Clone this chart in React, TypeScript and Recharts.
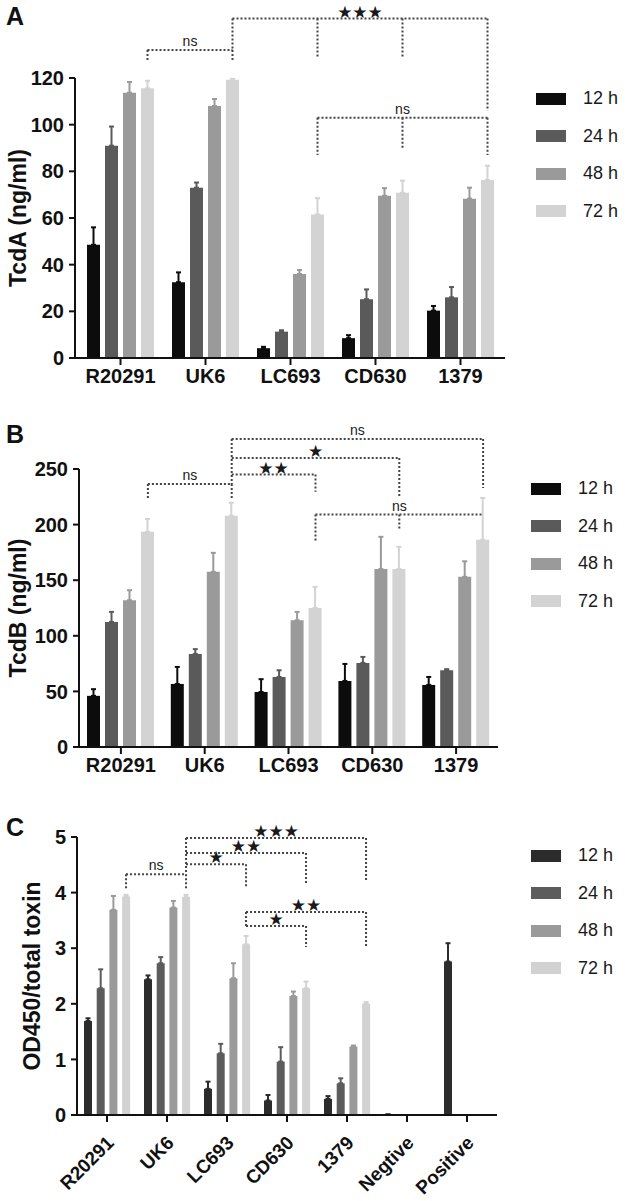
import React from "react";
import { BarChart, Bar, XAxis, YAxis, ErrorBar, Legend } from "recharts";

// categories
const strains = ["R20291", "UK6", "LC693", "CD630", "1379"];
const strainsC = ["R20291", "UK6", "LC693", "CD630", "1379", "Negtive", "Positive"];
const hours = ["12 h", "24 h", "48 h", "72 h"];

// panel A: TcdA (ng/ml), mean and upper SEM
const tcdA12 = [48.5, 32.5, 4.2, 8.5, 20.3];
const tcdA24 = [91, 73, 11.3, 25.2, 26];
const tcdA48 = [113.7, 108, 36, 69.5, 68.3];
const tcdA72 = [115.6, 119.2, 61.5, 70.8, 76.3];
const tcdA12Err = [7.5, 4.2, 0.6, 1.3, 2];
const tcdA24Err = [8.2, 2.2, 0.6, 4.2, 4.4];
const tcdA48Err = [4.6, 3, 1.7, 3.3, 4.7];
const tcdA72Err = [3.2, 0.4, 7, 5.2, 6.1];

// panel B: TcdB (ng/ml)
const tcdB12 = [46, 56.7, 49.5, 59.4, 55.8];
const tcdB24 = [112.5, 83.7, 63, 75.6, 69];
const tcdB48 = [132, 157.5, 114, 160, 153];
const tcdB72 = [193.5, 208, 125, 160, 186.4];
const tcdB12Err = [6, 15.3, 11.5, 15.3, 7.2];
const tcdB24Err = [9, 4.3, 6, 5.4, 1];
const tcdB48Err = [9, 17.1, 7.5, 29, 14];
const tcdB72Err = [11.5, 11.6, 19, 20, 37.6];

// panel C: OD450/total toxin
const od12 = [1.69, 2.44, 0.47, 0.26, 0.29, 0.01, 2.76];
const od24 = [2.28, 2.73, 1.11, 0.96, 0.57, 0, 0];
const od48 = [3.69, 3.73, 2.46, 2.14, 1.23, 0, 0];
const od72 = [3.93, 3.92, 3.07, 2.28, 2.0, 0, 0];
const od12Err = [0.05, 0.07, 0.13, 0.1, 0.05, 0, 0.33];
const od24Err = [0.34, 0.11, 0.17, 0.26, 0.09, 0, 0];
const od48Err = [0.25, 0.12, 0.27, 0.08, 0.02, 0, 0];
const od72Err = [0.03, 0.04, 0.15, 0.12, 0.03, 0, 0];

const colorsAB = ["#0c0c0c", "#5a5a5a", "#9a9a9a", "#d3d3d3"];
const colorsC = ["#2c2c2c", "#5c5c5c", "#9a9a9a", "#d2d2d2"];

const FONT = '"Liberation Sans", Arial, Helvetica, sans-serif';
const INK = "#111";
const DOT = "#444";

type Row = { name: string; [k: string]: number | string };

function buildRows(cats: string[], vals: number[][], errs: number[][]): Row[] {
  return cats.map((name, i) => {
    const r: Row = { name };
    vals.forEach((s, j) => {
      r["v" + j] = s[i];
      r["e" + j] = errs[j][i];
    });
    return r;
  });
}

const dataA = buildRows(strains, [tcdA12, tcdA24, tcdA48, tcdA72], [tcdA12Err, tcdA24Err, tcdA48Err, tcdA72Err]);
const dataB = buildRows(strains, [tcdB12, tcdB24, tcdB48, tcdB72], [tcdB12Err, tcdB24Err, tcdB48Err, tcdB72Err]);
const dataC = buildRows(strainsC, [od12, od24, od48, od72], [od12Err, od24Err, od48Err, od72Err]);

// significance brackets: line height in data units, ends at [category, bar]
type Drop = [number, number, number];
interface Bracket {
  from: [number, number];
  to: [number, number];
  y: number;
  drops: Drop[];
  label: string;
}

const bracketsA: Bracket[] = [
  { from: [0, 3], to: [1, 3], y: 132, drops: [[0, 3, 127], [1, 3, 127]], label: "ns" },
  { from: [1, 3], to: [4, 3], y: 145.5, drops: [[1, 3, 132], [2, 3, 128.5], [3, 3, 128.5], [4, 3, 106]], label: "★★★" },
  { from: [2, 3], to: [4, 3], y: 103, drops: [[2, 3, 87], [3, 3, 90], [4, 3, 87]], label: "ns" },
];

const bracketsB: Bracket[] = [
  { from: [0, 3], to: [1, 3], y: 236.5, drops: [[0, 3, 224], [1, 3, 224]], label: "ns" },
  { from: [1, 3], to: [2, 3], y: 245, drops: [[2, 3, 229.5]], label: "★★" },
  { from: [1, 3], to: [3, 3], y: 260, drops: [[3, 3, 224]], label: "★" },
  { from: [1, 3], to: [4, 3], y: 277, drops: [[1, 3, 236.5], [4, 3, 233]], label: "ns" },
  { from: [2, 3], to: [4, 3], y: 209, drops: [[2, 3, 184.5], [3, 3, 195]], label: "ns" },
];

const bracketsC: Bracket[] = [
  { from: [0, 3], to: [1, 3], y: 4.33, drops: [[0, 3, 4.08], [1, 3, 4.08]], label: "ns" },
  { from: [1, 3], to: [2, 3], y: 4.51, drops: [[2, 3, 4.1]], label: "★" },
  { from: [1, 3], to: [3, 3], y: 4.71, drops: [[3, 3, 4.15]], label: "★★" },
  { from: [1, 3], to: [4, 3], y: 4.98, drops: [[1, 3, 4.33], [4, 3, 4.19]], label: "★★★" },
  { from: [2, 3], to: [4, 3], y: 3.65, drops: [[2, 3, 3.4], [4, 3, 3.04]], label: "★★" },
  { from: [2, 3], to: [3, 3], y: 3.4, drops: [[3, 3, 3.02]], label: "★" },
];

interface PanelCfg {
  letter: string;
  title: string;
  top: number;
  bottom: number;
  plotLeft: number;
  plotTop: number;
  plotRight: number;
  plotBottom: number;
  padL: number;
  padR: number;
  barSize: number;
  barGap: number;
  max: number;
  ticks: number[];
  colors: string[];
  data: Row[];
  brackets: Bracket[];
  angled: boolean;
  legendLeft: number;
  legendTop: number;
  letterY: number;
  titleX: number;
}

const panels: PanelCfg[] = [
  {
    letter: "A", title: "TcdA (ng/ml)", top: 0, bottom: 390,
    plotLeft: 75, plotTop: 78, plotRight: 505, plotBottom: 358, padL: 3, padR: 2,
    barSize: 13, barGap: 5, max: 120, ticks: [0, 20, 40, 60, 80, 100, 120],
    colors: colorsAB, data: dataA, brackets: bracketsA, angled: false,
    legendLeft: 536, legendTop: 80, letterY: 25, titleX: 18,
  },
  {
    letter: "B", title: "TcdB (ng/ml)", top: 380, bottom: 780,
    plotLeft: 79, plotTop: 469, plotRight: 498, plotBottom: 747, padL: 0, padR: 0,
    barSize: 13, barGap: 5, max: 250, ticks: [0, 50, 100, 150, 200, 250],
    colors: colorsAB, data: dataB, brackets: bracketsB, angled: false,
    legendLeft: 531, legendTop: 470, letterY: 443, titleX: 18,
  },
  {
    letter: "C", title: "OD450/total toxin", top: 780, bottom: 1201,
    plotLeft: 77, plotTop: 837, plotRight: 497, plotBottom: 1115, padL: 0, padR: 0,
    barSize: 8, barGap: 4.7, max: 5, ticks: [0, 1, 2, 3, 4, 5],
    colors: colorsC, data: dataC, brackets: bracketsC, angled: true,
    legendLeft: 531, legendTop: 837, letterY: 836, titleX: 32,
  },
];

const LegendBox = ({ payload }: any) => (
  <div style={{ fontFamily: FONT }}>
    {(payload || []).map((p: any) => (
      <div key={p.value} style={{ display: "flex", alignItems: "center", height: 37.5 }}>
        <span style={{ display: "inline-block", width: 30, height: 12, background: p.color, marginRight: 17 }} />
        <span style={{ fontSize: 18, color: "#1a1a1a" }}>{p.value}</span>
      </div>
    ))}
  </div>
);

const AngledTick = ({ x, y, payload }: any) => (
  <g transform={`translate(${x + 8},${y + 20})`}>
    <text
      x={0}
      y={0}
      textAnchor="end"
      transform="rotate(-45)"
      fontFamily={FONT}
      fontSize={19}
      fontWeight={700}
      fill={INK}
    >
      {payload.value}
    </text>
  </g>
);

function Panel({ cfg }: { cfg: PanelCfg }) {
  const height = cfg.bottom - cfg.top;
  const axisStyle = { stroke: INK, strokeWidth: 2 };
  const tickFont = { fontFamily: FONT, fontSize: 20, fontWeight: 700, fill: INK };
  return (
    <div style={{ position: "absolute", left: 0, top: cfg.top }}>
      <BarChart
        width={630}
        height={height}
        data={cfg.data}
        margin={{ top: cfg.plotTop - cfg.top, right: 630 - cfg.plotRight, bottom: 0, left: 0 }}
        barGap={cfg.barGap}
      >
        <XAxis
          dataKey="name"
          height={cfg.bottom - cfg.plotBottom}
          padding={{ left: cfg.padL, right: cfg.padR }}
          axisLine={axisStyle}
          tickLine={axisStyle}
          tickSize={7}
          tickMargin={cfg.angled ? 2 : 4}
          interval={0}
          tick={cfg.angled ? <AngledTick /> : tickFont}
        />
        <YAxis
          width={cfg.plotLeft}
          domain={[0, cfg.max]}
          ticks={cfg.ticks}
          axisLine={axisStyle}
          tickLine={axisStyle}
          tickSize={6}
          tickMargin={5}
          tick={tickFont}
          interval={0}
        />
        <Legend
          layout="vertical"
          align="center"
          verticalAlign="middle"
          content={<LegendBox />}
          wrapperStyle={{ left: cfg.legendLeft, top: cfg.legendTop - cfg.top, width: 94 }}
        />
        {hours.map((h, j) => (
          <Bar
            key={h}
            dataKey={"v" + j}
            name={h}
            fill={cfg.colors[j]}
            barSize={cfg.barSize}
            isAnimationActive={false}
          >
            <ErrorBar
              dataKey={(d: Row) => [0, d["e" + j] as number]}
              width={2.5}
              stroke={cfg.colors[j]}
              strokeWidth={2}
              direction="y"
            />
          </Bar>
        ))}
      </BarChart>
    </div>
  );
}

function Annotations({ cfg }: { cfg: PanelCfg }) {
  const n = cfg.data.length;
  const band = (cfg.plotRight - cfg.plotLeft - cfg.padL - cfg.padR) / n;
  const bx = (c: number, b: number) =>
    cfg.plotLeft + cfg.padL + band * (c + 0.5) + (b - 1.5) * (cfg.barSize + cfg.barGap);
  const by = (v: number) => cfg.plotBottom - (v / cfg.max) * (cfg.plotBottom - cfg.plotTop);
  const midY = (cfg.plotTop + cfg.plotBottom) / 2;
  return (
    <g>
      <text x={6} y={cfg.letterY} fontFamily={FONT} fontSize={25} fontWeight={700} fill={INK}>
        {cfg.letter}
      </text>
      <text
        x={cfg.titleX}
        y={midY}
        transform={`rotate(-90 ${cfg.titleX} ${midY})`}
        textAnchor="middle"
        dominantBaseline="central"
        fontFamily={FONT}
        fontSize={23}
        fontWeight={700}
        fill={INK}
      >
        {cfg.title}
      </text>
      {cfg.brackets.map((br, i) => {
        const x1 = bx(br.from[0], br.from[1]);
        const x2 = bx(br.to[0], br.to[1]);
        const y = by(br.y);
        const star = br.label !== "ns";
        return (
          <g key={i}>
            <line x1={x1} y1={y} x2={x2} y2={y} stroke={DOT} strokeWidth={2} strokeDasharray="2 2" />
            {br.drops.map((d, k) => (
              <line
                key={k}
                x1={bx(d[0], d[1])}
                y1={y}
                x2={bx(d[0], d[1])}
                y2={by(d[2])}
                stroke={DOT}
                strokeWidth={2}
                strokeDasharray="2 2"
              />
            ))}
            <text
              x={(x1 + x2) / 2}
              y={y - (star ? 1 : 4)}
              textAnchor="middle"
              fontFamily={star ? '"DejaVu Sans", sans-serif' : FONT}
              fontSize={star ? 17 : 14}
              fill="#1a1a1a"
            >
              {br.label}
            </text>
          </g>
        );
      })}
    </g>
  );
}

export default function App() {
  return (
    <div style={{ position: "absolute", left: 0, top: 0, width: 630, height: 1201, background: "#fff" }}>
      {panels.map((p) => (
        <Panel key={p.letter} cfg={p} />
      ))}
      <svg
        width={630}
        height={1201}
        style={{ position: "absolute", left: 0, top: 0, pointerEvents: "none" }}
      >
        {panels.map((p) => (
          <Annotations key={p.letter} cfg={p} />
        ))}
      </svg>
    </div>
  );
}
